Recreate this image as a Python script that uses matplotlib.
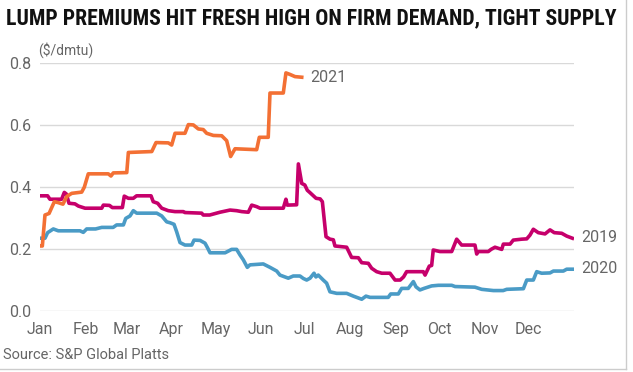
import matplotlib
matplotlib.use("Agg")
import matplotlib.pyplot as plt
from matplotlib.lines import Line2D

# day of year (0 = Jan 1) and premium in $/dmtu
days_2019 = [0, 5.2, 6.8, 14.8, 16.6, 18, 19.8, 23.9, 26.2, 30.8, 42.2, 43.3, 47.5, 49.4, 56.3,
             57.6, 60.4, 63.8, 66, 75.9, 77.4, 80.4, 83.2, 87.7, 92.3, 98, 99, 110.5, 111.6, 116,
             123, 129.9, 134.4, 137.9, 142.4, 144.7, 148.1, 150.4, 166.3, 168.1, 169, 175.4, 176.6,
             178.9, 181, 182.7, 184.6, 188.7, 191.5, 193, 195.5, 198.2, 200.5, 201.6, 209.6, 213,
             217.6, 219.9, 224.4, 226.7, 230.1, 233.6, 239.2, 242.7, 246.2, 248.5, 250.6, 262,
             263.2, 266.1, 267.7, 268.8, 273.4, 281.4, 284.8, 288.2, 297.3, 298.5, 299.6, 306.4,
             308.3, 311, 315.6, 316.7, 321.3, 323.5, 329.3, 332.7, 334.9, 337.2, 340.6, 345.2,
             348.6, 351.5, 356.6, 360, 363.9]
vals_2019 = [0.372, 0.372, 0.361, 0.361, 0.383, 0.378, 0.348, 0.346, 0.339, 0.332, 0.332, 0.342,
             0.341, 0.334, 0.334, 0.371, 0.364, 0.364, 0.372, 0.372, 0.353, 0.348, 0.332, 0.324,
             0.321, 0.321, 0.318, 0.316, 0.31, 0.31, 0.319, 0.326, 0.324, 0.321, 0.319, 0.342,
             0.337, 0.332, 0.332, 0.361, 0.342, 0.343, 0.475, 0.412, 0.407, 0.39, 0.382, 0.364,
             0.362, 0.353, 0.24, 0.232, 0.23, 0.21, 0.206, 0.173, 0.172, 0.156, 0.154, 0.138,
             0.127, 0.122, 0.122, 0.10, 0.10, 0.11, 0.127, 0.127, 0.116, 0.145, 0.147, 0.197,
             0.192, 0.192, 0.232, 0.213, 0.213, 0.184, 0.192, 0.192, 0.199, 0.206, 0.199, 0.216,
             0.216, 0.229, 0.232, 0.233, 0.245, 0.264, 0.253, 0.249, 0.262, 0.253, 0.251, 0.242,
             0.235]

days_2020 = [0, 3.4, 5.2, 9.1, 12.5, 27.3, 29.6, 31.9, 38, 42.2, 50, 52.4, 57, 58.6, 61.5, 63.8,
             66.1, 79.8, 83.2, 86.6, 88.9, 91.6, 93.4, 95.7, 99.1, 103.7, 105.3, 109.4, 112.8,
             114.4, 116.2, 126.5, 131, 134.4, 136.7, 139, 141.7, 143.5, 152.6, 157.2, 161.8, 164,
             169.7, 173.1, 177.7, 180, 182.3, 184.6, 187.3, 188.6, 190.2, 193.6, 195.9, 198.2,
             202.8, 209.6, 214.2, 219.9, 222.8, 225.6, 238, 239.7, 244.9, 247.2, 251.7, 255.2, 257,
             259.7, 262.5, 267.7, 272.3, 281.4, 283.7, 297.3, 301.9, 309.9, 316.6, 319, 330.4,
             332.7, 337.2, 339.5, 342.9, 348.6, 350.9, 357.7, 360, 363.9]
vals_2020 = [0.235, 0.235, 0.253, 0.265, 0.259, 0.259, 0.254, 0.265, 0.265, 0.27, 0.27, 0.278,
             0.278, 0.299, 0.307, 0.324, 0.316, 0.316, 0.307, 0.288, 0.285, 0.28, 0.256, 0.221,
             0.213, 0.213, 0.229, 0.228, 0.219, 0.205, 0.188, 0.188, 0.199, 0.199, 0.181, 0.165,
             0.141, 0.149, 0.152, 0.141, 0.129, 0.116, 0.106, 0.113, 0.113, 0.105, 0.10, 0.106,
             0.122, 0.11, 0.116, 0.10, 0.09, 0.062, 0.057, 0.057, 0.048, 0.038, 0.048, 0.044,
             0.044, 0.055, 0.055, 0.073, 0.073, 0.095, 0.078, 0.068, 0.073, 0.081, 0.083, 0.083,
             0.079, 0.077, 0.07, 0.066, 0.066, 0.07, 0.072, 0.10, 0.10, 0.127, 0.122, 0.123,
             0.129, 0.129, 0.135, 0.135]

days_2021 = [0, 1.6, 3.4, 6.2, 9.8, 12.5, 15.7, 18.3, 21.7, 28.5, 30.3, 33, 46.7, 48.5, 50.1,
             59.3, 60.4, 76.4, 79.3, 87.7, 90, 92.3, 99.1, 101.4, 104.8, 108.2, 111.6, 113.9,
             118.5, 124.2, 127.6, 130.3, 133.3, 148.1, 149.9, 156, 157.2, 166.3, 168.1, 170.9,
             174.3, 178.9]
vals_2021 = [0.21, 0.21, 0.31, 0.315, 0.353, 0.35, 0.345, 0.37, 0.38, 0.384, 0.40, 0.443, 0.443,
             0.436, 0.446, 0.447, 0.512, 0.515, 0.544, 0.543, 0.536, 0.574, 0.574, 0.602, 0.601,
             0.588, 0.586, 0.574, 0.567, 0.566, 0.55, 0.499, 0.524, 0.521, 0.561, 0.561, 0.704,
             0.704, 0.769, 0.764, 0.757, 0.755]

month_starts = [0, 31, 59, 90, 120, 151, 181, 212, 243, 273, 304, 334]
month_labels = ["Jan", "Feb", "Mar", "Apr", "May", "Jun", "Jul", "Aug", "Sep", "Oct", "Nov", "Dec"]
y_ticks = [0.0, 0.2, 0.4, 0.6, 0.8]

c2019 = "#c6006b"
c2020 = "#4a9bc6"
c2021 = "#f37034"
grey = "#666666"

plt.rcParams['font.family'] = ['Roboto', 'DejaVu Sans']

fig = plt.figure(figsize=(6.33, 3.72), dpi=100)
ax = fig.add_axes([40 / 633, 1 - 311 / 372, 534 / 633, 247.7 / 372])

ax.plot(days_2020, vals_2020, color=c2020, lw=2.6, solid_joinstyle="round")
ax.plot(days_2019, vals_2019, color=c2019, lw=2.6, solid_joinstyle="round")
ax.plot(days_2021, vals_2021, color=c2021, lw=2.6, solid_joinstyle="round")

ax.set_xlim(0, 365)
ax.set_ylim(0, 0.8)
ax.set_yticks(y_ticks)
ax.set_yticklabels([f"{v:.1f}" for v in y_ticks])
ax.set_xticks(month_starts)
ax.set_xticklabels(month_labels)
ax.tick_params(length=0, labelsize=11.5, labelcolor=grey, pad=6)
ax.tick_params(axis="x", pad=8)
ax.grid(axis="y", color="#d9d9d9", lw=1)
ax.set_axisbelow(True)
for s in ax.spines.values():
    s.set_visible(False)

# end labels
ax.text(days_2021[-1] + 6, vals_2021[-1], "2021", color=grey, fontsize=11.5, va="center")
ax.text(370, vals_2019[-1] + 0.002, "2019", color=grey, fontsize=11.5, va="center", clip_on=False)
ax.text(370, vals_2020[-1] + 0.002, "2020", color=grey, fontsize=11.5, va="center", clip_on=False)

fig.text(6 / 633, 1 - 18 / 372, "LUMP PREMIUMS HIT FRESH HIGH ON FIRM DEMAND, TIGHT SUPPLY",
         fontsize=15.7, fontweight="bold", fontstretch="condensed",
         family=["Roboto Condensed", "Roboto", "DejaVu Sans"],
         color="#111111", va="center", ha="left")
fig.text(38 / 633, 1 - 50 / 372, "($/dmtu)", fontsize=10, color=grey, va="center")
fig.text(3 / 633, 1 - 355 / 372, "Source: S&P Global Platts", fontsize=10.5, color=grey, va="center")

# light frame on right and bottom
fig.add_artist(Line2D([626 / 633, 626 / 633], [1 - 369 / 372, 1], color="#cccccc", lw=1))
fig.add_artist(Line2D([0, 626 / 633], [1 - 369 / 372, 1 - 369 / 372], color="#cccccc", lw=1))

fig.savefig("out.png", dpi=100)
